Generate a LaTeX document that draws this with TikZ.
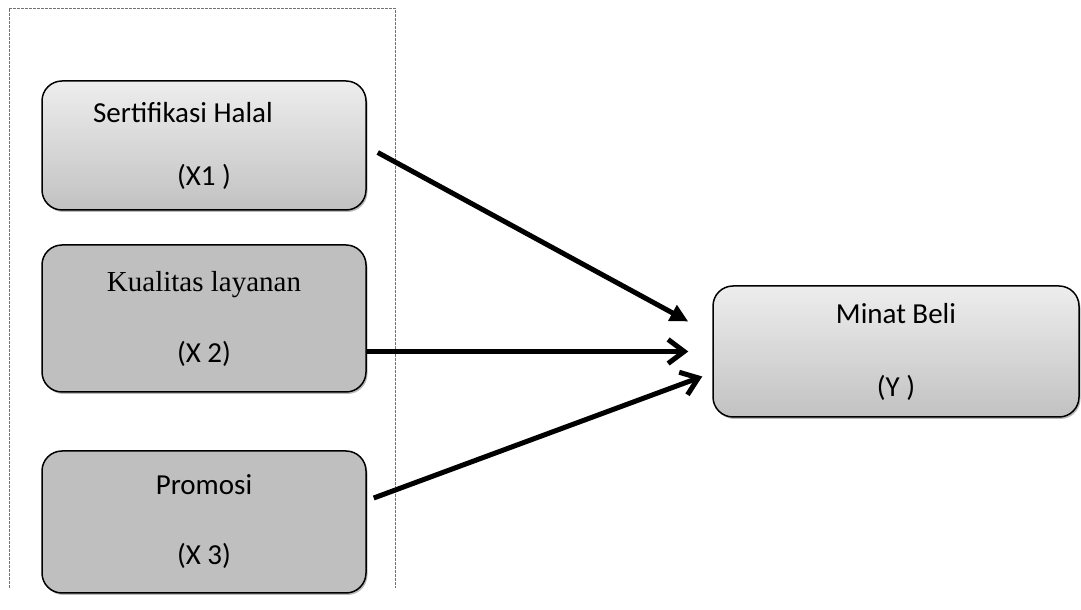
\documentclass[tikz,border=0pt]{standalone}
\usepackage{fontspec}
\setmainfont{Carlito}
\newfontfamily\timesfont{Liberation Serif}
\usetikzlibrary{calc,arrows.meta,shadows}

\tikzset{
	varbox/.style={draw=black, line width=1.5pt, rounded corners=20pt, align=center, inner sep=0pt,
		font=\fontsize{29}{30}\selectfont,
		drop shadow={shadow xshift=1.5pt, shadow yshift=-2pt, fill=black!45, opacity=0.6}},
	fadebox/.style={varbox, top color=black!7, bottom color=black!24},
	greybox/.style={varbox, fill=black!25},
	link/.style={line width=5pt, color=black}
}

\begin{document}
\begin{tikzpicture}[x=1pt, y=1pt]
			%%%%% START %%%%%
			
			\useasboundingbox (0, 0) rectangle (1081, 610);
			
			\draw[color=black!55, line width=0.7pt, dash pattern=on 3pt off 1pt] (9, 22) -- (9, 602) -- (395, 602) -- (395, 22);
			
			\node[fadebox, minimum width=324, minimum height=129] (sertifikasi) at (204, 464.5)
				{\hspace*{-42pt}Sertifikasi Halal\\[33pt](X1 )};
			\node[greybox, minimum width=324, minimum height=147] (kualitas) at (204, 291.5)
				{{\timesfont\fontsize{29}{30}\selectfont Kualitas layanan}\\[41pt](X 2)};
			\node[greybox, minimum width=324, minimum height=142] (promosi) at (204, 88)
				{Promosi\\[40pt](X 3)};
			
			\node[fadebox, minimum width=366, minimum height=131] (minat) at (896, 258.5)
				{Minat Beli\\[43pt](Y )};
			
			\coordinate (s1) at ($(sertifikasi.east)+(11, -7)$);
			\coordinate (t1) at ($(minat.west)+(-24, 30)$);
			\coordinate (s2) at (minat.west -| kualitas.east);
			\coordinate (t2) at ($(minat.west)+(-24, 0)$);
			\coordinate (s3) at ($(promosi.east)+(7, 24)$);
			\coordinate (t3) at ($(minat.west)+(-10, -25)$);
			
			\draw[link, -{Triangle[length=18pt, width=17pt]}] (s1) -- (t1);
			\draw[link, -{Straight Barb[length=16pt, width=24pt]}] (s2) -- (t2);
			\draw[link, -{Straight Barb[length=16pt, width=24pt]}] (s3) -- (t3);
			
			%%%%% END %%%%%
		\end{tikzpicture}
\end{document}
